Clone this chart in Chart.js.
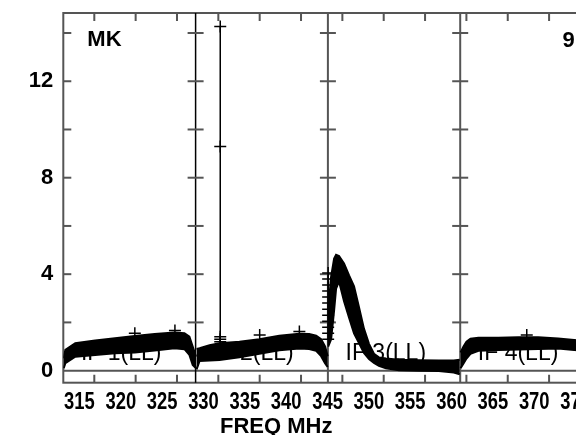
<!DOCTYPE html>
<html><head><meta charset="utf-8">
<script src="https://cdn.jsdelivr.net/npm/chart.js@4.4.1/dist/chart.umd.min.js"></script>
<style>html,body{margin:0;padding:0;overflow:hidden;background:#fff}canvas{display:block}</style>
</head><body>
<canvas id="c" width="600" height="435"></canvas>
<script>
// ---- data (frequency in MHz, amplitude) ----
const if1Freq  = [311.3, 311.5, 312.7, 315.1, 317.5, 319.9, 322.3, 324.7, 325.9, 326.5, 326.9, 327.3];
const if1Upper = [0.51, 0.86, 1.14, 1.25, 1.34, 1.44, 1.52, 1.58, 1.55, 1.41, 1.00, 0.58];
const if1Lower = [0.10, 0.31, 0.58, 0.65, 0.72, 0.75, 0.83, 0.93, 0.89, 0.65, 0.24, 0.10];

const if2Freq  = [327.37, 327.73, 328.94, 330.14, 332.55, 334.96, 337.37, 339.78, 340.99, 341.83, 342.43, 342.92, 343.22];
const if2Upper = [0.90, 0.93, 1.05, 1.14, 1.20, 1.30, 1.45, 1.53, 1.52, 1.45, 1.30, 1.00, 0.60];
const if2Lower = [0.05, 0.40, 0.42, 0.44, 0.55, 0.70, 0.85, 0.92, 0.90, 0.82, 0.60, 0.30, 0.15];

const if3Freq  = [343.28, 343.64, 344.0, 344.24, 344.6, 345.2, 345.81, 346.41, 347.01, 347.61, 348.22, 348.82, 349.42, 350.27, 351.84, 354.25, 356.66, 358.47, 359.19];
const if3Upper = [2.5, 3.9, 4.65, 4.8, 4.75, 4.44, 3.95, 3.5, 2.63, 1.74, 1.11, 0.70, 0.55, 0.50, 0.45, 0.43, 0.42, 0.42, 0.45];
const if3Lower = [1.0, 1.3, 2.5, 3.4, 3.7, 2.88, 2.2, 1.55, 1.14, 0.73, 0.48, 0.32, 0.20, 0.10, 0.02, 0.00, -0.02, -0.08, -0.15];

const if4Freq  = [359.29, 359.65, 360.01, 360.49, 361.46, 363.87, 366.28, 368.69, 371.10, 373.03, 375.2];
const if4Upper = [0.75, 1.00, 1.20, 1.32, 1.36, 1.36, 1.38, 1.38, 1.33, 1.27, 1.20];
const if4Lower = [0.10, 0.30, 0.50, 0.70, 0.82, 0.86, 0.88, 0.90, 0.92, 0.86, 0.80];

// single-channel spike in IF 2
const spikeFreq = [330.23, 330.23, 330.23, 330.23, 330.23];
const spikeAmp  = [14.27, 9.29, 1.41, 1.30, 1.20];

// scattered points at the start of IF 3
const if3EdgeFreq = [343.28, 343.28, 343.28, 343.28, 343.28, 343.28, 343.28, 343.28, 343.28, 343.28, 343.28, 343.28];
const if3EdgeAmp  = [1.30, 1.55, 1.80, 2.05, 2.30, 2.55, 2.80, 3.05, 3.30, 3.55, 3.80, 4.05];

// stray points above the band
const strayFreq = [319.9, 324.75, 335.0, 339.8, 367.3];
const strayAmp  = [1.55, 1.66, 1.48, 1.62, 1.48];

const xTickValues = [315, 320, 325, 330, 335, 340, 345, 350, 355, 360, 365, 370, 375];
const yTickValues = [0, 4, 8, 12];
const yMinorTicks = [2, 4, 6, 8, 10, 12, 14];
const ifEdges  = [311.25, 327.25, 343.25, 359.25, 375.25];
const ifLabels = ['IF 1(LL)', 'IF 2(LL)', 'IF 3(LL)', 'IF 4(LL)'];
const cornerLeft = 'MK';
const cornerRight = '9';
const xTitle = 'FREQ MHz';

const pts = (f, a) => f.map((v, i) => ({x: v, y: a[i]}));
const bandSets = [];
[[if1Freq, if1Upper, if1Lower], [if2Freq, if2Upper, if2Lower], [if3Freq, if3Upper, if3Lower], [if4Freq, if4Upper, if4Lower]]
  .forEach(([f, u, l]) => {
    bandSets.push({data: pts(f, u), showLine: true, borderColor: '#000', borderWidth: 2, pointRadius: 0, fill: false, tension: 0});
    bandSets.push({data: pts(f, l), showLine: true, borderColor: '#000', borderWidth: 2, pointRadius: 0, fill: '-1', backgroundColor: '#000', tension: 0});
  });

const FRAME = '#555';
const framePlugin = {
  id: 'frame',
  beforeDatasetsDraw(chart) {
    const {ctx, chartArea: a, scales: {x, y}} = chart;
    ctx.save();
    ctx.strokeStyle = FRAME;
    ctx.lineWidth = 2;
    ctx.strokeRect(a.left, a.top, a.right - a.left, a.bottom - a.top);
    const y0 = y.getPixelForValue(0);
    ctx.beginPath(); ctx.moveTo(a.left, y0); ctx.lineTo(a.right, y0); ctx.stroke();
    xTickValues.forEach(v => {
      const px = x.getPixelForValue(v);
      ctx.beginPath();
      ctx.moveTo(px, a.bottom); ctx.lineTo(px, a.bottom - 8);
      ctx.moveTo(px, a.top); ctx.lineTo(px, a.top + 8);
      ctx.stroke();
    });
    ifEdges.forEach((e, i) => {
      const px = x.getPixelForValue(e);
      if (i > 0 && i < ifEdges.length - 1) {
        ctx.strokeStyle = i === 1 ? '#000' : FRAME;
        ctx.lineWidth = i === 1 ? 1.5 : 2;
        ctx.beginPath(); ctx.moveTo(px, a.top); ctx.lineTo(px, a.bottom); ctx.stroke();
        ctx.strokeStyle = FRAME; ctx.lineWidth = 2;
      }
      yMinorTicks.forEach(v => {
        const py = y.getPixelForValue(v);
        ctx.beginPath();
        ctx.moveTo(px - (i === 0 ? 0 : 8), py);
        ctx.lineTo(px + (i === ifEdges.length - 1 ? 0 : 8), py);
        ctx.stroke();
      });
    });
    ctx.restore();
  },
  afterDatasetsDraw(chart) {
    const {ctx, chartArea: a, scales: {x, y}} = chart;
    ctx.save();
    ctx.fillStyle = '#000';
    ctx.textBaseline = 'alphabetic';
    ctx.font = '23px "Liberation Sans", Arial, sans-serif';
    ctx.textAlign = 'center';
    ifLabels.forEach((t, i) => {
      const mid = (ifEdges[i] + ifEdges[i + 1]) / 2 - 1.0;
      ctx.fillText(t, x.getPixelForValue(mid), 360);
    });
    ctx.font = 'bold 22px "Liberation Sans", Arial, sans-serif';
    ctx.textAlign = 'left';
    ctx.fillText(cornerLeft, a.left + 24, 45.7);
    ctx.textAlign = 'right';
    ctx.fillText(cornerRight, x.getPixelForValue(373.1), 46.7);
    ctx.textAlign = 'center';
    ctx.fillText(xTitle, x.getPixelForValue(337.0), 433);
    // x tick labels: condensed bold, right edge at the tick
    ctx.font = 'bold 23px "Liberation Sans", Arial, sans-serif';
    ctx.textAlign = 'right';
    xTickValues.forEach(v => {
      const px = x.getPixelForValue(v);
      ctx.save();
      ctx.translate(px + 0.5, 409);
      ctx.scale(0.8, 1);
      ctx.fillText(String(v), 0, 0);
      ctx.restore();
    });
    ctx.restore();
  }
};

new Chart(document.getElementById('c'), {
  type: 'scatter',
  data: {
    datasets: [
      ...bandSets,
      {data: pts(spikeFreq, spikeAmp), showLine: true, borderColor: '#000', borderWidth: 1.5, pointStyle: 'cross', pointRadius: 6, pointBorderWidth: 1.5, pointBorderColor: '#000'},
      {data: pts(if3EdgeFreq, if3EdgeAmp), showLine: false, pointStyle: 'cross', pointRadius: 6, pointBorderWidth: 1.5, pointBorderColor: '#000'},
      {data: pts(strayFreq, strayAmp), showLine: false, pointStyle: 'cross', pointRadius: 6, pointBorderWidth: 1.5, pointBorderColor: '#000'}
    ]
  },
  options: {
    responsive: false,
    animation: false,
    devicePixelRatio: 1,
    layout: {padding: {top: 13, right: 5.5, left: 0, bottom: 0}},
    plugins: {legend: {display: false}, tooltip: {enabled: false}},
    scales: {
      x: {
        type: 'linear', min: 311.25, max: 375.25,
        grid: {display: false, drawTicks: false},
        border: {display: false},
        afterBuildTicks: s => { s.ticks = xTickValues.map(v => ({value: v})); },
        afterFit: s => { s.height = 52.3; s.paddingLeft = 0; s.paddingRight = 0; },
        ticks: {display: false}
      },
      y: {
        type: 'linear', min: -0.5, max: 14.83,
        grid: {display: false, drawTicks: false},
        border: {display: false},
        afterBuildTicks: s => { s.ticks = yTickValues.map(v => ({value: v})); },
        afterFit: s => { s.width = 63.3; s.paddingTop = 0; s.paddingBottom = 0; },
        ticks: {padding: 10, color: '#000',
                font: {family: '"Liberation Sans", Arial, sans-serif', size: 22, weight: 'bold'},
                callback: v => String(v)}
      }
    }
  },
  plugins: [framePlugin]
});
</script>
</body></html>
